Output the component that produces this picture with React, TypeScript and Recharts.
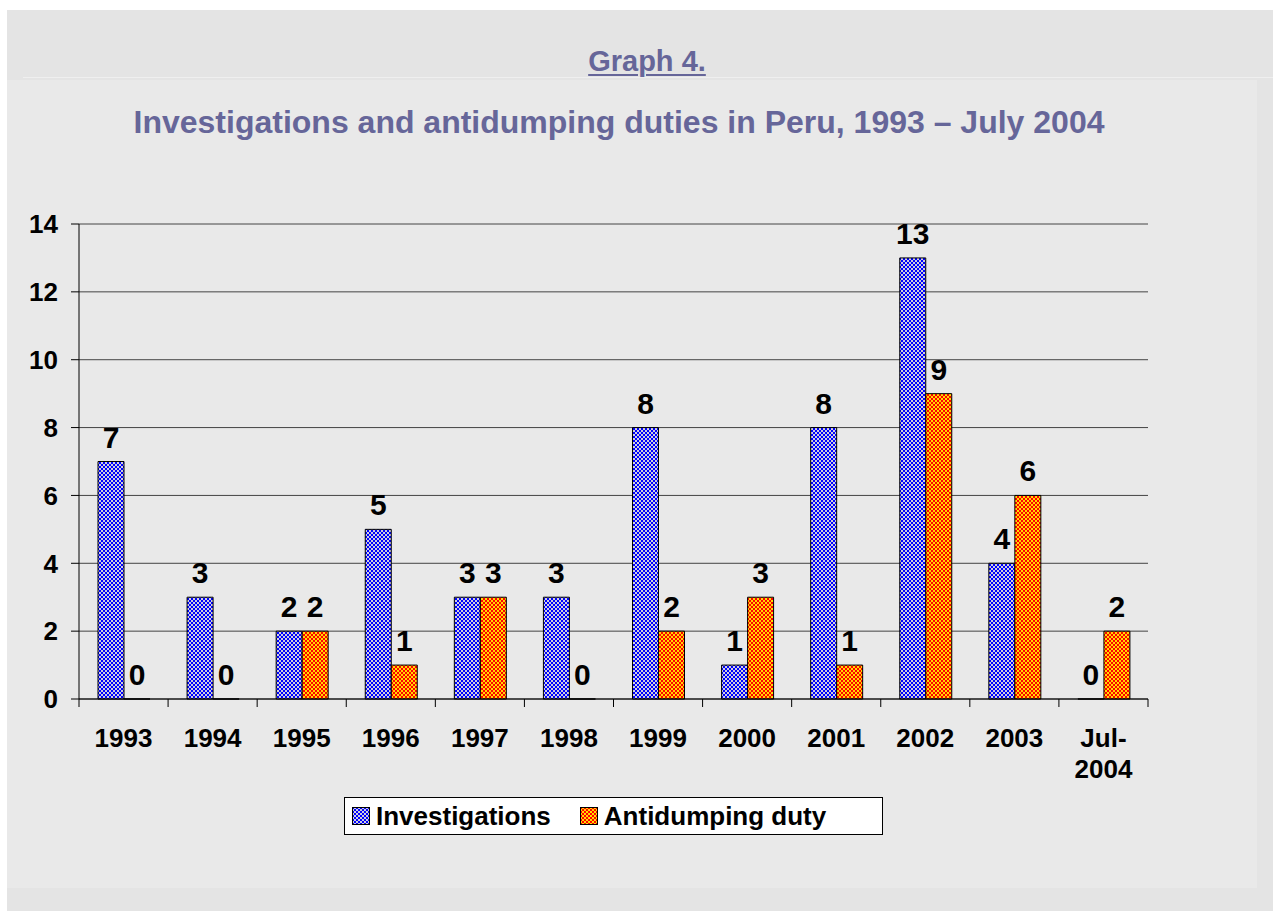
import React from "react";
import { BarChart, Bar, XAxis, YAxis, CartesianGrid, LabelList } from "recharts";

const years = ["1993", "1994", "1995", "1996", "1997", "1998", "1999", "2000", "2001", "2002", "2003", "Jul-2004"];
const investigations = [7, 3, 2, 5, 3, 3, 8, 1, 8, 13, 4, 0];
const antidumping = [0, 0, 2, 1, 3, 0, 2, 3, 1, 9, 6, 2];
const yTicks = [0, 2, 4, 6, 8, 10, 12, 14];
const seriesNames = ["Investigations", "Antidumping duty"];

const FONT = '"Liberation Sans", Arial, sans-serif';
const TITLE_COLOR = "#666699";

const data = years.map((year, i) => ({ year, inv: investigations[i], ad: antidumping[i] }));

// checker patterns like the old excel fills
function Patterns({ prefix }: { prefix: string }) {
    return (
        <defs>
            <pattern id={prefix + "Blue"} width="4" height="4" patternUnits="userSpaceOnUse">
                <rect width="4" height="4" fill="#d0d0dc" shapeRendering="crispEdges" />
                <rect x="0" y="0" width="2" height="2" fill="#0000ff" shapeRendering="crispEdges" />
                <rect x="2" y="2" width="2" height="2" fill="#0000ff" shapeRendering="crispEdges" />
            </pattern>
            <pattern id={prefix + "Orange"} width="4" height="4" patternUnits="userSpaceOnUse">
                <rect width="4" height="4" fill="#ffdc00" shapeRendering="crispEdges" />
                <rect x="0" y="0" width="2" height="2" fill="#ff0000" shapeRendering="crispEdges" />
                <rect x="2" y="2" width="2" height="2" fill="#ff0000" shapeRendering="crispEdges" />
            </pattern>
        </defs>
    );
}

function YearTick(props: any) {
    const { x, y, payload } = props;
    const half = payload.offset ?? 44.6;
    const lines = String(payload.value).split(/(?<=-)/);
    const isLast = payload.value === years[years.length - 1];
    return (
        <g>
            <line x1={x - half} x2={x - half} y1={y} y2={y + 8} stroke="#000" />
            {isLast && <line x1={x + half} x2={x + half} y1={y} y2={y + 8} stroke="#000" />}
            <text x={x} y={y + 48} textAnchor="middle" fontSize={26} fontWeight="bold" fill="#000" fontFamily={FONT}>
                {lines.map((l, i) => (
                    <tspan key={i} x={x} dy={i === 0 ? 0 : 31}>{l}</tspan>
                ))}
            </text>
        </g>
    );
}

function Swatch({ id }: { id: string }) {
    return (
        <svg width={18} height={18} style={{ display: "block" }}>
            <Patterns prefix="lg" />
            <rect x={0.5} y={0.5} width={17} height={17} fill={`url(#lg${id})`} stroke="#000" />
        </svg>
    );
}

export default function App() {
    const labelStyle = { fontSize: 30, fontWeight: "bold", fill: "#000", fontFamily: FONT };
    return (
        <div style={{ position: "absolute", left: 7, top: 10, width: 1266, height: 901, background: "#e4e4e4", fontFamily: FONT }}>
            <div style={{ position: "absolute", left: 16, top: 67, right: 0, height: 1, background: "#efefef" }} />
            <div style={{ position: "absolute", left: 0, top: 70, width: 1250, height: 808, background: "#e9e9e9" }} />

            <div style={{ position: "absolute", left: 340, top: 37, width: 600, textAlign: "center", fontSize: 29, lineHeight: "29px", fontWeight: "bold", color: TITLE_COLOR }}>
                <span style={{ textDecoration: "underline", textDecorationThickness: 2, textUnderlineOffset: 3 }}>Graph 4.</span>
            </div>
            <div style={{ position: "absolute", left: 12, top: 96, width: 1200, textAlign: "center", fontSize: 32, lineHeight: "32px", fontWeight: "bold", color: TITLE_COLOR }}>
                Investigations and antidumping duties in Peru, 1993 – July 2004
            </div>

            <div style={{ position: "absolute", left: 0, top: 0 }}>
                <BarChart width={1250} height={880} data={data} barGap={0} margin={{ top: 214, right: 109, bottom: 131, left: 12 }}>
                    <Patterns prefix="pat" />
                    <CartesianGrid vertical={false} stroke="#444" />
                    <XAxis dataKey="year" height={60} interval={0} tickSize={0} tickMargin={0} tickLine={false} axisLine={{ stroke: "#000" }} tick={<YearTick />} />
                    <YAxis domain={[0, 14]} ticks={yTicks} interval={0} width={60} tickSize={8} tickMargin={13}
                        axisLine={{ stroke: "#000" }} tickLine={{ stroke: "#000" }}
                        tick={{ fontSize: 26, fontWeight: "bold", fill: "#000", fontFamily: FONT }} />
                    <YAxis yAxisId="right" orientation="right" width={0} domain={[0, 14]} tick={false} tickLine={false} axisLine={{ stroke: "#888" }} />
                    <Bar dataKey="inv" name={seriesNames[0]} fill="url(#patBlue)" stroke="#000" strokeWidth={1} barSize={26} minPointSize={0.01} isAnimationActive={false}>
                        <LabelList dataKey="inv" position="top" offset={14} {...labelStyle} />
                    </Bar>
                    <Bar dataKey="ad" name={seriesNames[1]} fill="url(#patOrange)" stroke="#000" strokeWidth={1} barSize={26} minPointSize={0.01} isAnimationActive={false}>
                        <LabelList dataKey="ad" position="top" offset={14} {...labelStyle} />
                    </Bar>
                </BarChart>
            </div>

            <div style={{ position: "absolute", left: 337, top: 787, width: 539, height: 38, boxSizing: "border-box", background: "#fff", border: "1px solid #000", display: "flex", alignItems: "center", paddingLeft: 7 }}>
                <Swatch id="Blue" />
                <span style={{ marginLeft: 6, fontSize: 26, fontWeight: "bold", color: "#000" }}>{seriesNames[0]}</span>
                <span style={{ marginLeft: 29 }}><Swatch id="Orange" /></span>
                <span style={{ marginLeft: 6, fontSize: 26, fontWeight: "bold", color: "#000" }}>{seriesNames[1]}</span>
            </div>
        </div>
    );
}
